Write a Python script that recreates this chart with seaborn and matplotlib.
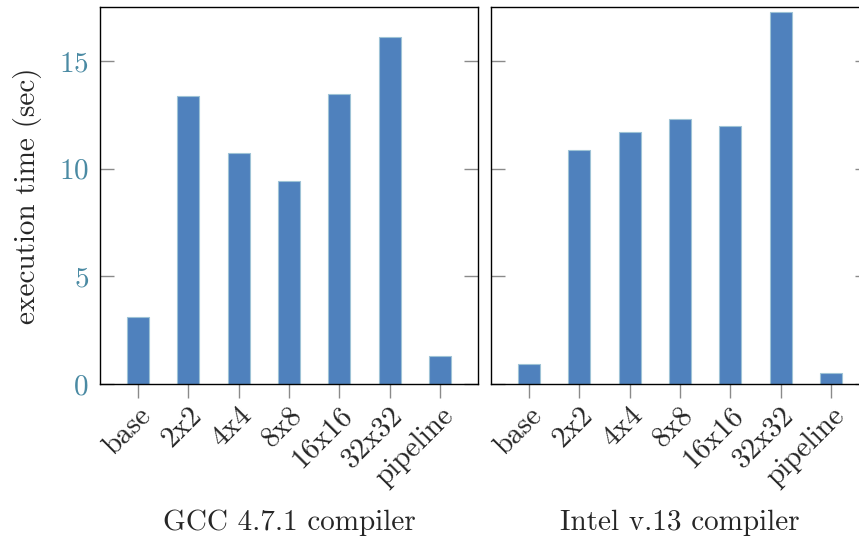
import pandas as pd
import matplotlib
matplotlib.use('Agg')
import matplotlib.pyplot as plt
import seaborn as sns

# Data
versions = ['base', '2x2', '4x4', '8x8', '16x16', '32x32', 'pipeline']
gcc_times = [3.11, 13.38, 10.74, 9.43, 13.44, 16.10, 1.28]
intel_times = [0.93, 10.85, 11.70, 12.31, 11.98, 17.28, 0.51]
panel_titles = ['GCC 4.7.1 compiler', 'Intel v.13 compiler']
y_ticks = [0, 5, 10, 15]

sns.set_style('ticks')
plt.rcParams['font.family'] = ['cmr10', 'DejaVu Serif']
plt.rcParams['axes.formatter.use_mathtext'] = True

bar_color = '#4f81bd'
label_color = '#4a8aa3'
tick_gray = '#8a8a8a'
fs = 21

fig = plt.figure(figsize=(8.59, 5.38), dpi=100)
W, H = 859, 538
ax_left = fig.add_axes([100 / W, 154 / H, 378 / W, 377 / H])
ax_right = fig.add_axes([491 / W, 154 / H, 378 / W, 377 / H])

for ax, times, title in zip([ax_left, ax_right], [gcc_times, intel_times], panel_titles):
    df = pd.DataFrame({'version': versions, 'time': times})
    sns.barplot(data=df, x='version', y='time', color=bar_color, width=0.44,
                edgecolor='#9ec3d6', linewidth=0.8, saturation=1, ax=ax)
    ax.set_xlim(-0.755, len(versions) - 1 + 0.755)
    ax.set_ylim(0, 17.5)
    ax.set_yticks(y_ticks)
    ax.set_xticks(range(len(versions)))
    ax.set_xticklabels(versions, rotation=45, ha='right', rotation_mode='anchor',
                       fontsize=fs)
    ax.set_xlabel(title, fontsize=fs, labelpad=14)
    ax.set_ylabel('')
    ax.tick_params(axis='y', direction='in', left=True, right=True, length=10,
                   width=1, color=tick_gray, labelcolor=label_color, labelsize=fs,
                   pad=8)
    ax.tick_params(axis='x', direction='out', length=10, width=1, color=tick_gray,
                   bottom=True, top=False, pad=3)
    for s in ax.spines.values():
        s.set_visible(True)
        s.set_color('black')
        s.set_linewidth(1)

ax_right.tick_params(axis='y', labelleft=False)
ax_left.set_ylabel('execution time (sec)', fontsize=fs, labelpad=12)

plt.savefig('out.png', dpi=100)
